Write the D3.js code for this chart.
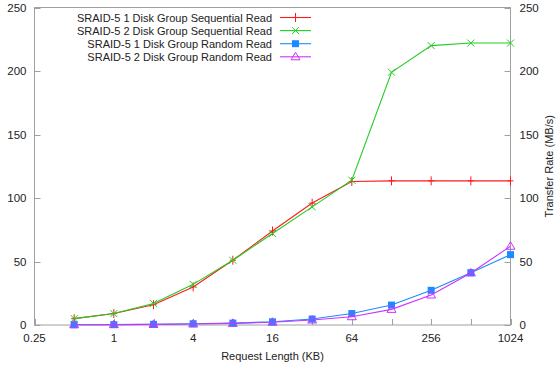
<!DOCTYPE html>
<html>
<head>
<meta charset="utf-8">
<script src="https://cdn.jsdelivr.net/npm/d3@7"></script>
<style>
body { margin: 0; background: #fff; }
text { font-family: "Liberation Sans", Arial, sans-serif; font-size: 11px; fill: #222; }
text.tick { font-size: 11.5px; }
</style>
</head>
<body>
<svg id="chart" width="560" height="371"></svg>
<script>
var sizes = [0.5, 1, 2, 4, 8, 16, 32, 64, 128, 256, 512, 1024],
	xTicks = [0.25, 1, 4, 16, 64, 256, 1024],
	yTicks = [0, 50, 100, 150, 200, 250];

var seq1 = [5, 9, 16, 30, 51, 74, 96, 113, 113.5, 113.5, 113.5, 113.5],
	seq2 = [5, 9, 17, 32, 51, 72, 93, 114, 199, 220, 222, 222],
	rnd1 = [0.2, 0.3, 0.5, 1, 1.5, 2.5, 4.7, 9, 15.7, 27.3, 41.2, 55.4],
	rnd2 = [0.2, 0.3, 0.5, 0.8, 1.3, 2.2, 3.9, 6.5, 12.3, 23.6, 41, 62];

var series = [
	{name: "SRAID-5 1 Disk Group Sequential Read", values: seq1, color: "#ff1a1a", marker: "plus"},
	{name: "SRAID-5 2 Disk Group Sequential Read", values: seq2, color: "#22cc22", marker: "cross"},
	{name: "SRAID-5 1 Disk Group Random Read", values: rnd1, color: "#1a8cff", marker: "square"},
	{name: "SRAID-5 2 Disk Group Random Read", values: rnd2, color: "#cc33ff", marker: "triangle"}
];

var svg = d3.select("#chart"),
	pLeft = 34.5, pRight = 510.5, pTop = 7.5, pBottom = 325;

var x = d3.scaleLog().base(2).domain([0.25, 1024]).range([pLeft, pRight]),
	y = d3.scaleLinear().domain([0, 250]).range([pBottom, pTop]);

var axisColor = "#a0a0a0";

// border
svg.append("rect")
	.attr("x", pLeft).attr("y", pTop)
	.attr("width", pRight - pLeft).attr("height", pBottom - pTop)
	.attr("fill", "none").attr("stroke", axisColor).attr("stroke-width", 1);

// y ticks both sides
yTicks.forEach(function (v) {
	var yy = Math.round(y(v)) + 0.5;
	svg.append("line").attr("x1", pLeft).attr("x2", pLeft + 6).attr("y1", yy).attr("y2", yy)
		.attr("stroke", axisColor);
	svg.append("line").attr("x1", pRight).attr("x2", pRight - 6).attr("y1", yy).attr("y2", yy)
		.attr("stroke", axisColor);
	svg.append("text").attr("class", "tick").attr("x", pLeft - 8).attr("y", y(v) + 4)
		.attr("text-anchor", "end").text(v);
	svg.append("text").attr("class", "tick").attr("x", pRight + 9).attr("y", y(v) + 4)
		.attr("text-anchor", "start").text(v);
});

// x ticks at every power of two
sizes.concat([0.25]).forEach(function (v) {
	var xx = Math.round(x(v)) + 0.5;
	svg.append("line").attr("x1", xx).attr("x2", xx).attr("y1", pBottom).attr("y2", pBottom - 6)
		.attr("stroke", axisColor);
});
xTicks.forEach(function (v) {
	svg.append("text").attr("class", "tick").attr("x", x(v)).attr("y", pBottom + 17)
		.attr("text-anchor", "middle").text(v);
});

svg.append("text").attr("x", (pLeft + pRight) / 2).attr("y", 360)
	.attr("text-anchor", "middle").text("Request Length (KB)");
svg.append("text")
	.attr("transform", "translate(553," + ((pTop + pBottom) / 2) + ") rotate(-90)")
	.attr("text-anchor", "middle").text("Transfer Rate (MB/s)");

function drawMarker(g, type, cx, cy, color) {
	if (type == "plus") {
		g.append("path").attr("d", "M" + (cx - 3) + "," + cy + "H" + (cx + 3) + "M" + cx + "," + (cy - 4.5) + "V" + (cy + 4.5))
			.attr("stroke", color).attr("fill", "none");
	} else if (type == "cross") {
		g.append("path").attr("d", "M" + (cx - 3.5) + "," + (cy - 3.5) + "L" + (cx + 3.5) + "," + (cy + 3.5) + "M" + (cx - 3.5) + "," + (cy + 3.5) + "L" + (cx + 3.5) + "," + (cy - 3.5))
			.attr("stroke", color).attr("fill", "none");
	} else if (type == "square") {
		g.append("rect").attr("x", cx - 3.5).attr("y", cy - 3.5).attr("width", 7).attr("height", 7)
			.attr("fill", color);
	} else {
		g.append("path").attr("d", "M" + cx + "," + (cy - 4.5) + "L" + (cx + 4.5) + "," + (cy + 3) + "L" + (cx - 4.5) + "," + (cy + 3) + "Z")
			.attr("stroke", color).attr("fill", "none");
	}
}

var line = d3.line()
	.x(function (d) { return x(d[0]); })
	.y(function (d) { return y(d[1]); });

series.forEach(function (s, k) {
	var pts = sizes.map(function (v, i) { return [v, s.values[i]]; });
	var g = svg.append("g");
	g.append("path").attr("d", line(pts)).attr("fill", "none")
		.attr("stroke", s.color).attr("stroke-width", 1.1);
	pts.forEach(function (p) { drawMarker(g, s.marker, x(p[0]), y(p[1]), s.color); });

	// legend
	var ly = 17.5 + k * 13.1;
	svg.append("text").attr("x", 272).attr("y", ly + 4)
		.attr("text-anchor", "end").text(s.name);
	svg.append("line").attr("x1", 280).attr("x2", 311).attr("y1", ly).attr("y2", ly)
		.attr("stroke", s.color).attr("stroke-width", 1.1);
	drawMarker(svg, s.marker, 295.5, ly, s.color);
});
</script>
</body>
</html>
